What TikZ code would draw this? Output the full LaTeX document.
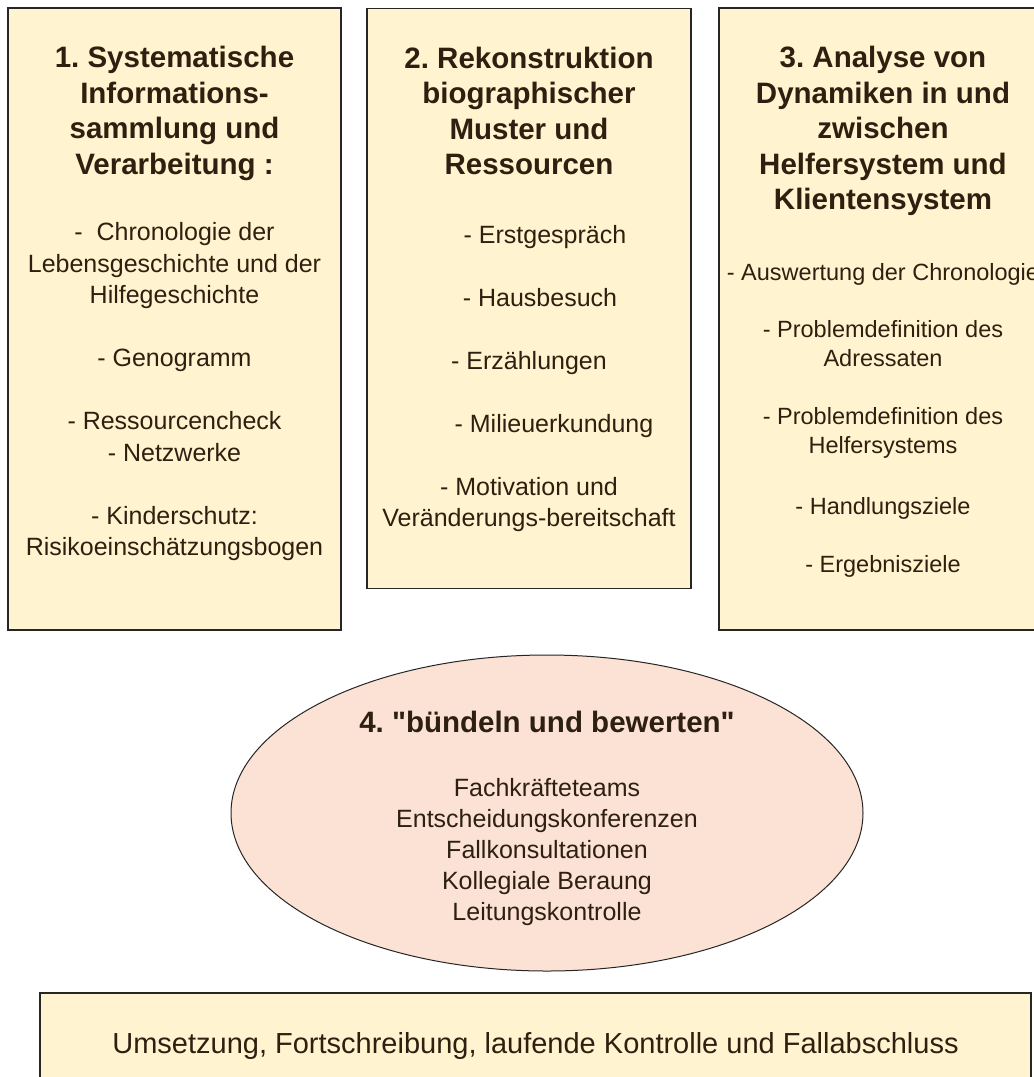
\documentclass[tikz,border=0pt]{standalone}
\usepackage{fontspec}
\setmainfont{Liberation Sans}
\usetikzlibrary{shapes.geometric,positioning}
\definecolor{boxfill}{HTML}{FFF4CF}
\definecolor{ovalfill}{HTML}{FBE2D4}
\definecolor{ink}{HTML}{2E2010}
\frenchspacing

\begin{document}
\begin{tikzpicture}[x=1pt, y=-1pt,
  panel/.style={draw=black!85, line width=1.3pt, fill=boxfill, inner sep=0pt},
  oval/.style={draw=black!85, line width=1pt, fill=ovalfill, ellipse, inner sep=0pt},
  headtext/.style={align=center, inner sep=0pt, text=ink, font=\bfseries\fontsize{29.5}{35.5}\selectfont},
  listtext/.style={align=center, inner sep=0pt, text=ink, font=\fontsize{25}{31.5}\selectfont}]

\useasboundingbox (0,0) rectangle (1034,1077);

% drei Kaesten oben
\node[panel, minimum width=333pt, minimum height=622pt] (b1) at (174.5,319) {};
\node[panel, minimum width=324pt, minimum height=580pt] (b2) at (529,298.5) {};
\node[panel, minimum width=328pt, minimum height=622pt] (b3) at (883,319) {};

\node[headtext, below=39pt of b1.north] (h1) {1. Systematische\\Informations-\\sammlung und\\Verarbeitung :};
\node[listtext, below=215pt of b1.north] (l1) {-\ \ Chronologie der\\Lebensgeschichte und der\\Hilfegeschichte\\[31.5pt]
  - Genogramm\\[31.5pt] - Ressourcencheck\\- Netzwerke\\[31.5pt] - Kinderschutz:\\Risikoeinschätzungsbogen};

\node[headtext, below=39pt of b2.north] (h2) {2. Rekonstruktion\\biographischer\\Muster und\\Ressourcen};
\node[listtext, below=217pt of b2.north] (l2) {\hspace*{32pt}- Erstgespräch\\[31.5pt] \hspace*{22pt}- Hausbesuch\\[31.5pt] - Erzählungen\\[31.5pt]
  \hspace*{50pt}- Milieuerkundung\\[31.5pt] - Motivation und\\Veränderungs-bereitschaft};

\node[headtext, below=39pt of b3.north] (h3) {3. Analyse von\\Dynamiken in und\\zwischen\\Helfersystem und\\Klientensystem};
\node[listtext, below=256pt of b3.north, font=\fontsize{23.5}{29}\selectfont] (l3) {- Auswertung der Chronologie\\[28pt]
  - Problemdefinition des\\Adressaten\\[29pt] - Problemdefinition des\\Helfersystems\\[32pt]
  - Handlungsziele\\[29pt] - Ergebnisziele};

% Ellipse
\node[oval, minimum width=632pt, minimum height=316pt] (ov) at (547,813) {};
\node[headtext, below=56pt of ov.north] (h4) {4. \textquotedbl bündeln und bewerten\textquotedbl};
\node[listtext, below=124pt of ov.north, font=\fontsize{25}{31}\selectfont] (l4) {Fachkräfteteams\\Entscheidungskonferenzen\\Fallkonsultationen\\Kollegiale Beraung\\Leitungskontrolle};

% unterer Kasten
\node[panel, minimum width=991pt, minimum height=140pt] (b5) at (535.5,1063) {};
\node[listtext, below=40pt of b5.north, font=\fontsize{29}{34}\selectfont] (l5) {Umsetzung, Fortschreibung, laufende Kontrolle und Fallabschluss};

\end{tikzpicture}
\end{document}
